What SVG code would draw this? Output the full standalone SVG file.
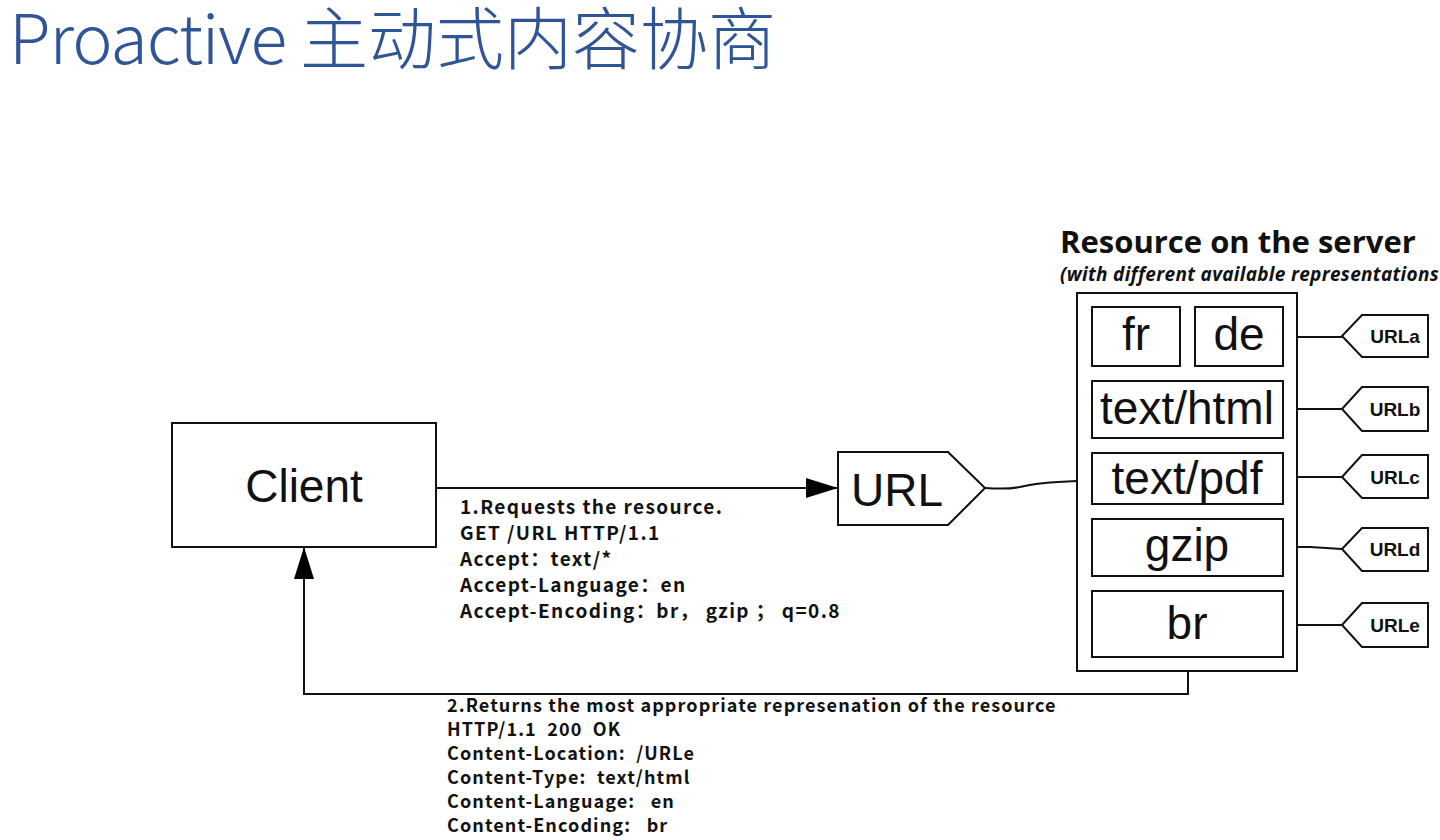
<svg xmlns="http://www.w3.org/2000/svg" width="1440" height="840" viewBox="0 0 1440 840">
<defs>
<marker id="arr" viewBox="0 0 32 20" refX="32" refY="10" markerWidth="32" markerHeight="20" markerUnits="userSpaceOnUse" orient="auto">
<path d="M0,0 L32,10 L0,20 Z" fill="#000"/>
</marker>
<style>
.box{fill:#fff;stroke:#111;stroke-width:2}
.tag{fill:#fff;stroke:#111;stroke-width:2;stroke-linejoin:miter}
.big{font-family:"Liberation Sans",Arial,sans-serif;font-size:46px;fill:#111;text-anchor:middle}
.small{font-family:"Liberation Sans",Arial,sans-serif;font-size:19px;font-weight:bold;fill:#111;text-anchor:middle}
.line{fill:none;stroke:#111;stroke-width:2}
.note{font-family:"Noto Sans CJK SC","Open Sans",sans-serif;font-weight:bold;fill:#111;white-space:pre}
.req{font-size:19px;letter-spacing:1.4px}
.res{font-size:18px;letter-spacing:1.1px}
.ttl{font-family:"Noto Sans CJK SC","Open Sans",sans-serif;font-weight:300;font-size:68px;fill:#2F5597}
</style>
</defs>
<rect width="1440" height="840" fill="#fff"/>
<g id="title">
<text class="ttl" x="9" y="64" letter-spacing="-1">Proactive</text>
<text class="ttl" x="300" y="64">主动式内容协商</text>
</g>
<g id="connectors">
<path class="line" d="M436,488 L838,488" marker-end="url(#arr)"/>
<path class="line" d="M1188,657 L1188,694 L304,694 L304,547" marker-end="url(#arr)"/>
<path class="line" d="M985,488 C1000,489 1010,489 1020,487 C1035,483 1050,482 1077,481"/>
<path class="line" d="M1283,337 L1342,337"/>
<path class="line" d="M1283,409 L1342,409"/>
<path class="line" d="M1283,477 L1342,477"/>
<path class="line" d="M1283,547 L1310,547 L1342,549"/>
<path class="line" d="M1283,625 L1342,625"/>
</g>
<g id="client">
<rect class="box" x="172" y="423" width="264" height="124"/>
<text class="big" x="304" y="502">Client</text>
</g>
<g id="url">
<path class="tag" d="M838,452 L948,452 L985,488 L948,525 L838,525 Z"/>
<text class="big" x="897" y="506">URL</text>
</g>
<g id="resource">
<text x="1060" y="253" font-family="'Open Sans',sans-serif" font-weight="bold" font-size="31" fill="#111">Resource on the server</text>
<text x="1060" y="281" font-family="'Open Sans',sans-serif" font-weight="bold" font-style="italic" font-size="19" letter-spacing="0.3" fill="#111">(with different available representations</text>
<rect class="box" x="1077" y="293" width="220" height="378"/>
</g>
<g id="rep-fr">
<rect class="box" x="1092" y="307" width="88" height="59"/>
<text class="big" x="1136" y="350">fr</text>
</g>
<g id="rep-de">
<rect class="box" x="1195" y="307" width="88" height="59"/>
<text class="big" x="1239" y="350">de</text>
</g>
<g id="rep-html">
<rect class="box" x="1092" y="381" width="191" height="57"/>
<text class="big" x="1187" y="424">text/html</text>
</g>
<g id="rep-pdf">
<rect class="box" x="1092" y="453" width="191" height="51"/>
<text class="big" x="1187" y="494">text/pdf</text>
</g>
<g id="rep-gzip">
<rect class="box" x="1092" y="519" width="191" height="57"/>
<text class="big" x="1187" y="561">gzip</text>
</g>
<g id="rep-br">
<rect class="box" x="1092" y="591" width="191" height="66"/>
<text class="big" x="1187" y="639">br</text>
</g>
<g id="urla">
<path class="tag" d="M1342,336 L1362,315 L1428,315 L1428,357 L1362,357 Z"/>
<text class="small" x="1395" y="343">URLa</text>
</g>
<g id="urlb">
<path class="tag" d="M1342,409 L1362,387 L1428,387 L1428,431 L1362,431 Z"/>
<text class="small" x="1395" y="416">URLb</text>
</g>
<g id="urlc">
<path class="tag" d="M1342,477 L1362,455 L1428,455 L1428,498 L1362,498 Z"/>
<text class="small" x="1395" y="484">URLc</text>
</g>
<g id="urld">
<path class="tag" d="M1342,549 L1362,528 L1428,528 L1428,571 L1362,571 Z"/>
<text class="small" x="1395" y="556">URLd</text>
</g>
<g id="urle">
<path class="tag" d="M1342,625 L1362,603 L1428,603 L1428,647 L1362,647 Z"/>
<text class="small" x="1395" y="632">URLe</text>
</g>
<g id="request-label">
<text class="note req" x="460" y="514">1.Requests the resource.</text>
<text class="note req" x="460" y="540">GET /URL HTTP/1.1</text>
<text class="note req" x="460" y="566">Accept：text/*</text>
<text class="note req" x="460" y="592">Accept-Language：en</text>
<text class="note req" x="460" y="618">Accept-Encoding：br， gzip ； q=0.8</text>
</g>
<g id="response-label">
<text class="note res" x="447" y="712">2.Returns the most appropriate represenation of the resource</text>
<text class="note res" x="447" y="736">HTTP/1.1  200  OK</text>
<text class="note res" x="447" y="760">Content-Location:  /URLe</text>
<text class="note res" x="447" y="784">Content-Type:  text/html</text>
<text class="note res" x="447" y="808">Content-Language:   en</text>
<text class="note res" x="447" y="832">Content-Encoding:   br</text>
</g>
</svg>
